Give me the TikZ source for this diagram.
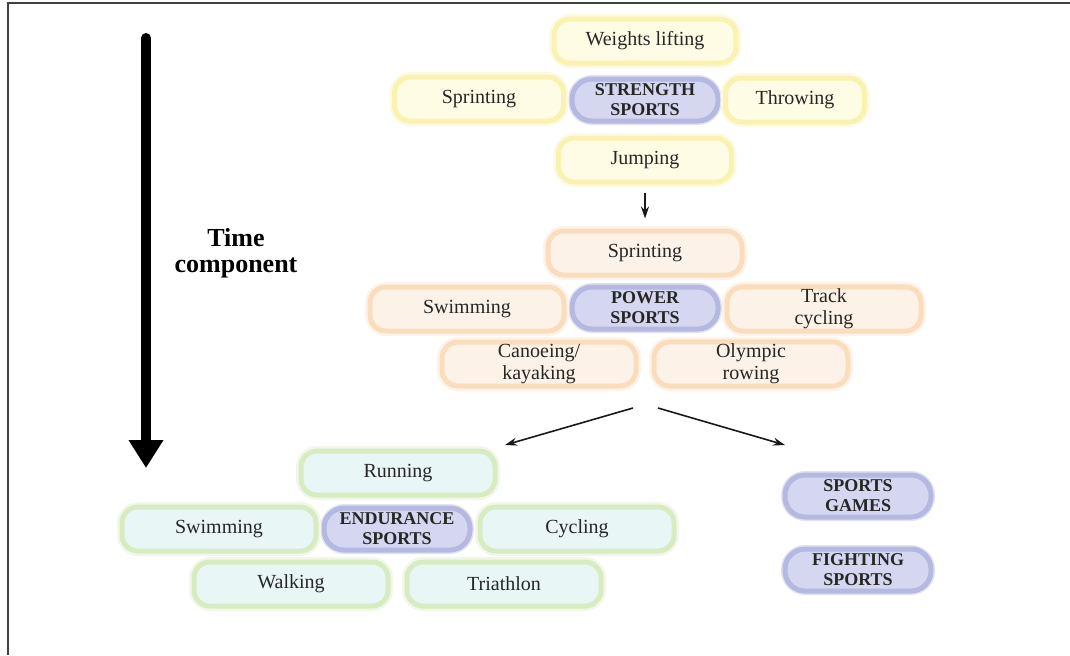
\documentclass[tikz,border=0pt]{standalone}
\usepackage{fontspec}
\setmainfont{Liberation Serif}
\usetikzlibrary{arrows.meta}

\definecolor{ylwin}{HTML}{FFFCE6}
\definecolor{ylwout}{HTML}{FAF2B0}
\definecolor{orgin}{HTML}{FDF2E7}
\definecolor{orgout}{HTML}{FADDBC}
\definecolor{grnin}{HTML}{E9F6F6}
\definecolor{grnout}{HTML}{D8ECC2}
\definecolor{bluin}{HTML}{D4D7EF}
\definecolor{bluout}{HTML}{B5B8E0}

\begin{document}
\begin{tikzpicture}[x=0.5pt, y=-0.5pt,
		sport/.style={rounded corners=8pt, minimum width=97pt, minimum height=22pt, inner sep=1pt,
			align=center, text=black!85, font=\fontsize{10}{11}\selectfont, line width=2.5pt},
		ylw/.style={sport, fill=ylwin, draw=ylwout, preaction={draw=ylwout!35, line width=5pt}},
		org/.style={sport, fill=orgin, draw=orgout, preaction={draw=orgout!35, line width=5pt}},
		grn/.style={sport, fill=grnin, draw=grnout, preaction={draw=grnout!35, line width=5pt}},
		group/.style={rounded corners=10pt, minimum width=73pt, minimum height=21pt, inner sep=1pt,
			align=center, text=black!85, font=\bfseries\fontsize{9}{10}\selectfont,
			fill=bluin, draw=bluout, line width=2.5pt, preaction={draw=bluout!40, line width=4pt}},
		thinarrow/.style={-{Stealth[length=6pt,width=4pt]}, line width=0.8pt, black!90},
	]
			\useasboundingbox (0,0) rectangle (1070,655);

			% frame
			\draw [black!75, line width=1.1pt] (8,655) -- (8,3) -- (1070,3);

			% time axis
			\coordinate (timeTop) at (146,38);
			\coordinate (timeBot) at (146,468);
			\draw [line width=5pt, line cap=round, -{Triangle[width=16.5pt,length=14pt]}] (timeTop) -- (timeBot);
			\node[font=\bfseries\fontsize{13}{13}\selectfont, align=center] (time) at (236,253) {Time\\component};

			% strength sports
			\node[group] (strength) at (645,100) {STRENGTH\\SPORTS};
			\node[ylw, minimum width=91pt] (wlift) at (645,41) {Weights lifting};
			\node[ylw, minimum width=84.5pt] (sprintS) at (479,99) {Sprinting};
			\node[ylw, minimum width=69.5pt] (throw) at (795,100) {Throwing};
			\node[ylw, minimum width=86.5pt] (jump) at (645,160) {Jumping};

			% power sports
			\node[group] (power) at (645,308) {POWER\\SPORTS};
			\node[org] (sprintP) at (645,253) {Sprinting};
			\node[org] (swimP) at (467,309) {Swimming};
			\node[org] (track) at (824,309) {Track\\cycling};
			\node[org] (canoe) at (539,364) {Canoeing/\\kayaking};
			\node[org] (rowing) at (751,364) {Olympic\\rowing};

			% endurance sports
			\node[group] (endurance) at (397,529) {ENDURANCE\\SPORTS};
			\node[grn] (run) at (398,473) {Running};
			\node[grn] (swimE) at (219,529) {Swimming};
			\node[grn] (cycle) at (577,529) {Cycling};
			\node[grn] (walk) at (291,584) {Walking};
			\node[grn] (tri) at (504,584) {Triathlon};

			% other groups
			\node[group] (games) at (858,496) {SPORTS\\GAMES};
			\node[group] (fight) at (858,570) {FIGHTING\\SPORTS};

			% arrows
			\draw [thinarrow, shorten <=4pt, shorten >=5pt] (jump) -- (sprintP);
			\coordinate (forkL) at (633,408);
			\coordinate (forkR) at (658,408);
			\coordinate (toEnd) at (505,445);
			\coordinate (toGames) at (785,445);
			\draw [thinarrow] (forkL) -- (toEnd);
			\draw [thinarrow] (forkR) -- (toGames);
		\end{tikzpicture}
\end{document}
